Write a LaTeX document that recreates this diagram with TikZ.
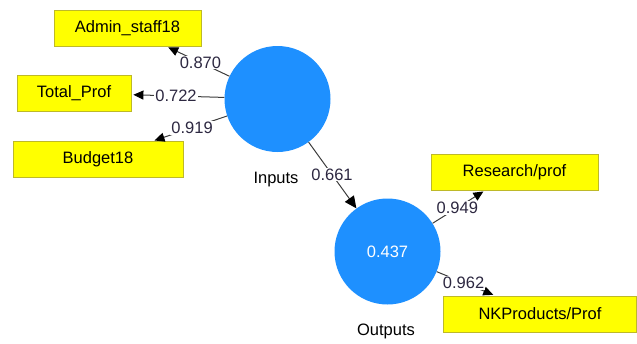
\documentclass[tikz,border=0pt]{standalone}
\usepackage{fontspec}
\setmainfont{Liberation Sans}
\usetikzlibrary{shapes.geometric, arrows.meta}
\definecolor{indfill}{RGB}{255,255,0}
\definecolor{indline}{RGB}{190,185,40}
\definecolor{lvblue}{RGB}{30,144,255}
\definecolor{pathgray}{RGB}{60,60,60}
\definecolor{coefcol}{RGB}{45,40,65}
\tikzset{
  indicator/.style={
    rectangle, draw=indline, line width=0.8pt, fill=indfill,
    text centered, minimum height=36pt, inner sep=0pt,
    font=\fontsize{16.5}{19}\selectfont
  },
  latent/.style={
    circle, fill=lvblue, text=white,
    minimum size=106pt, inner sep=0pt,
    font=\fontsize{16.5}{19}\selectfont
  },
  lvname/.style={font=\fontsize{16.5}{19}\selectfont},
  coef/.style={
    fill=white, text=coefcol, inner sep=1pt,
    font=\fontsize{16.5}{19}\selectfont
  },
  arr/.style={-{Triangle[length=10pt,width=9pt,black]}, draw=pathgray, line width=1pt, shorten >=2pt},
  iarr/.style={-{Triangle[length=12pt,width=11pt,black]}, draw=pathgray, line width=1pt},
}

\begin{document}
\begin{tikzpicture}[x=1pt, y=-1pt]
  \useasboundingbox (0,0) rectangle (637,343);

  % ── nodes ─────────────────────────────────────────────────────────────────
  \node[latent] (inputs)  at (277.5,99)  {};
  \node[latent] (outputs) at (387.5,251.5) {0.437};

  \node[lvname] at (276,180) (inname)  {Inputs};
  \node[lvname] at (386,331) (outname) {Outputs};

  % indicator boxes
  \node[indicator, minimum width=147pt] (admin)    at (127.5,28)  {Admin\_staff18};
  \node[indicator, minimum width=114pt] (totprof)  at (74,93)     {Total\_Prof};
  \node[indicator, minimum width=170pt] (budget)   at (98,159.5)  {Budget18};
  \node[indicator, minimum width=167pt] (research) at (514.5,172) {Research/prof};
  \node[indicator, minimum width=193pt] (nkprod)   at (540,314)   {NKProducts/Prof};

  % ── edges ─────────────────────────────────────────────────────────────────
  \draw[arr] (inputs) -- node[coef, pos=0.46]{0.870} (admin);
  \draw[arr] (inputs) -- node[coef, pos=0.52]{0.722} (totprof);
  \draw[arr] (inputs) -- node[coef, pos=0.47]{0.919} (budget);

  \draw[iarr] (inputs) -- node[coef, pos=0.49]{0.661} (outputs);

  \draw[arr] (outputs) -- node[coef, pos=0.47]{0.949} (research);
  \draw[arr] (outputs) -- node[coef, pos=0.46]{0.962} (nkprod);

\end{tikzpicture}
\end{document}
